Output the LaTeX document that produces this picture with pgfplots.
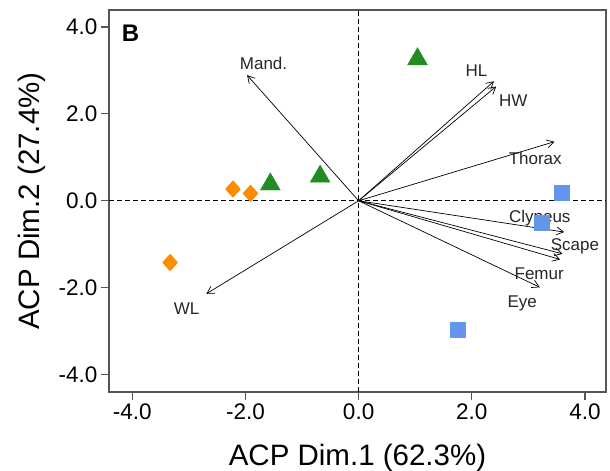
\documentclass[border=0pt]{standalone}
\usepackage{fontspec}
\setmainfont{Liberation Sans}
\usepackage{pgfplots}
\pgfplotsset{compat=1.18}
\usetikzlibrary{arrows.meta}
\definecolor{tgreen}{RGB}{34,139,34}
\definecolor{dorange}{RGB}{255,140,0}
\definecolor{cblue}{RGB}{100,149,237}
\definecolor{axgray}{RGB}{85,85,85}
\begin{document}
\begin{tikzpicture}
\begin{axis}[
 scale only axis, width=497bp, height=382bp,
 xmin=-4.41, xmax=4.37, ymin=-4.40, ymax=4.39,
 axis line style={axgray, line width=1.2bp},
 xtick={-4,-2,0,2,4}, ytick={-4,-2,0,2,4},
 tick align=outside, tick pos=left,
 major tick length=8bp,
 every tick/.style={axgray, line width=1.2bp},
 tick label style={font=\fontsize{22.5bp}{26bp}\selectfont, text=black},
 /pgf/number format/fixed, /pgf/number format/fixed zerofill,
 /pgf/number format/precision=1, /pgf/number format/assume math mode=true,
 xlabel={ACP Dim.1 (62.3\%)}, ylabel={ACP Dim.2 (27.4\%)},
 label style={font=\fontsize{29.5bp}{34bp}\selectfont},
 xlabel style={at={(axis description cs:0.5,-0.172)}, anchor=center},
 ylabel style={at={(axis description cs:-0.155,0.5)}, anchor=center},
 clip=false,
]
% reference lines
\addplot[black, line width=1.1bp, dash pattern=on 5bp off 3bp] coordinates {(0,-4.40) (0,4.39)};
\addplot[black, line width=1.1bp, dash pattern=on 5bp off 3bp] coordinates {(-4.41,0) (4.37,0)};
% individuals
\addplot[only marks, mark=triangle*, mark size=11.5bp, color=tgreen, mark options={line width=0.3bp}] coordinates {(-1.56,0.38) (-0.68,0.56) (1.04,3.26)};
\addplot[only marks, mark=diamond*, mark size=7.6bp, color=dorange, mark options={xscale=1.2, line width=1.6bp, line join=round}] coordinates {(-2.22,0.27) (-1.91,0.17) (-3.33,-1.42)};
\addplot[only marks, mark=square*, mark size=7.7bp, color=cblue, mark options={line width=0.3bp}] coordinates {(3.59,0.19) (3.23,-0.50) (1.75,-2.96)};
% variable arrows
\pgfplotsset{varr/.style={black, line width=0.7bp, -{Straight Barb[length=7bp,width=8bp]}}}
\addplot[varr] coordinates {(0,0) (-1.97,2.89)};
\addplot[varr] coordinates {(0,0) (2.39,2.75)};
\addplot[varr] coordinates {(0,0) (2.43,2.63)};
\addplot[varr] coordinates {(0,0) (3.46,1.36)};
\addplot[varr] coordinates {(0,0) (3.63,-0.72)};
\addplot[varr] coordinates {(0,0) (3.60,-1.22)};
\addplot[varr] coordinates {(0,0) (3.56,-1.35)};
\addplot[varr] coordinates {(0,0) (3.20,-1.99)};
\addplot[varr] coordinates {(0,0) (-2.69,-2.14)};
% labels
\begin{scope}[every node/.style={font=\fontsize{17bp}{20bp}\selectfont, text=black!85}]
\node at (axis cs:-1.68,3.16) {Mand.};
\node at (axis cs:2.08,3.00) {HL};
\node at (axis cs:2.73,2.31) {HW};
\node at (axis cs:3.12,0.97) {Thorax};
\node at (axis cs:3.20,-0.39) {Clypeus};
\node at (axis cs:3.82,-1.04) {Scape};
\node at (axis cs:3.19,-1.69) {Femur};
\node at (axis cs:2.89,-2.36) {Eye};
\node at (axis cs:-3.04,-2.49) {WL};
\end{scope}
\node[font=\bfseries\fontsize{24bp}{28bp}\selectfont] at (axis cs:-4.03,3.86) {B};
\end{axis}
\pgfresetboundingbox
\path[use as bounding box] (current axis.south west) ++(-109bp,-79bp) rectangle ++(610bp,471bp);
\end{tikzpicture}
\end{document}
